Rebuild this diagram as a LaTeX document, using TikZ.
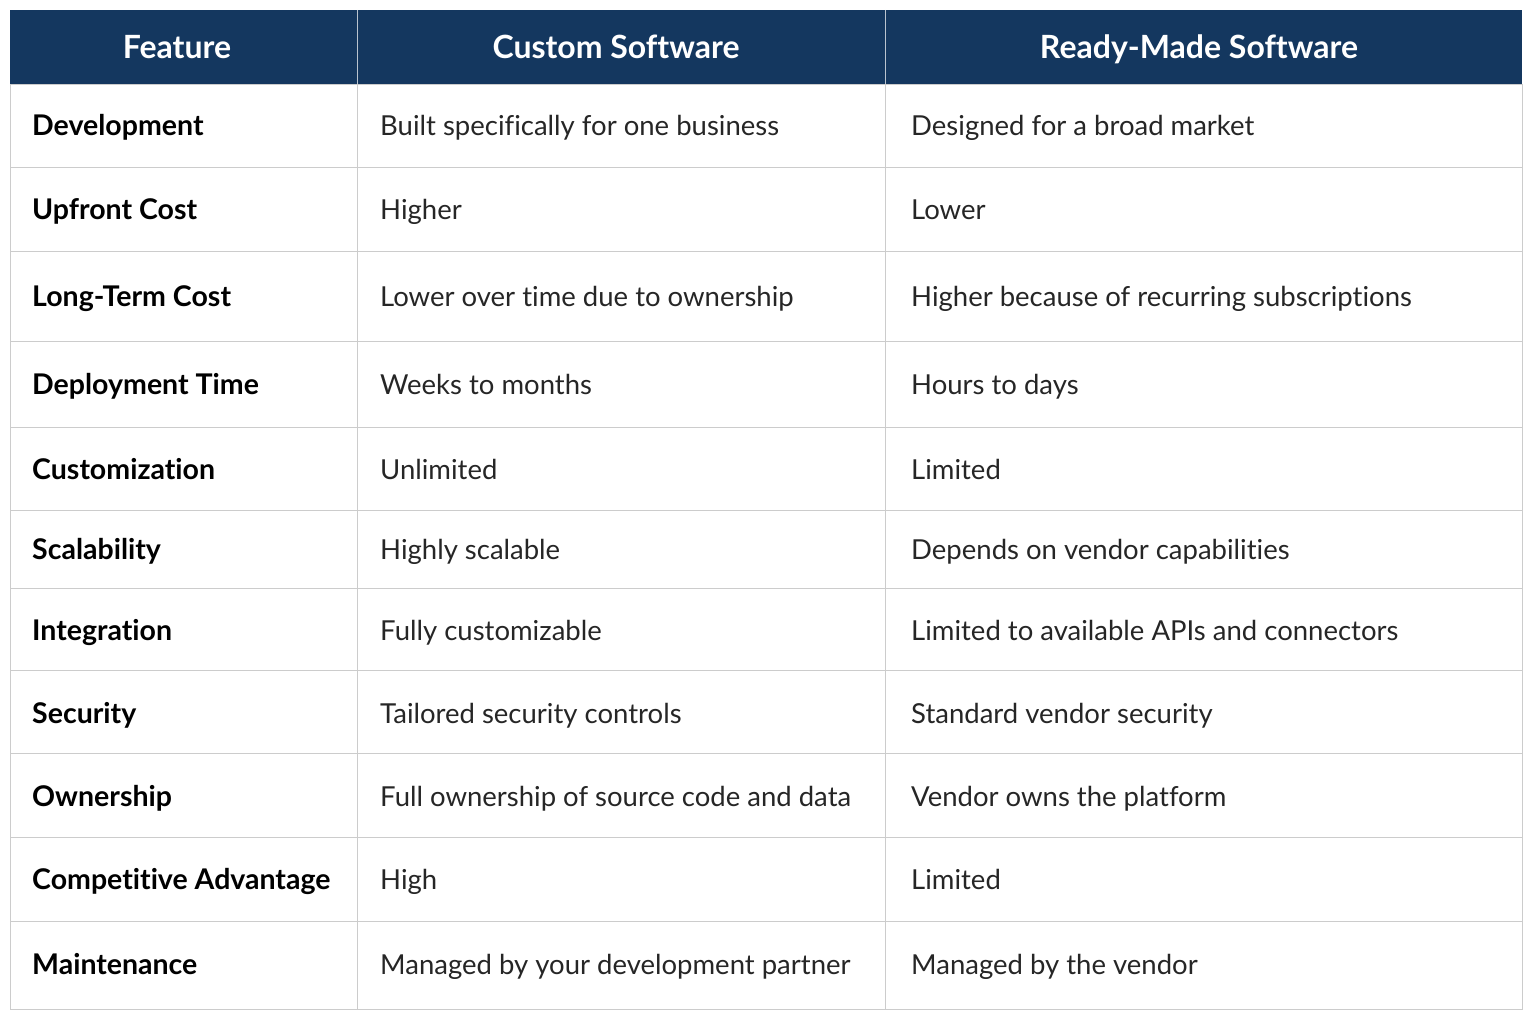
\documentclass[tikz,border=0pt]{standalone}
\usepackage{fontspec}
\setmainfont[Ligatures={NoCommon,NoRare}]{Lato}
\definecolor{hdr}{HTML}{14375F}
\definecolor{grid}{HTML}{CCCCCC}
\begin{document}
\begin{tikzpicture}[x=1pt,y=-1pt,
  hd/.style={font=\fontsize{32}{36}\selectfont\bfseries, text=white, anchor=base},
  fc/.style={font=\fontsize{28.5}{32}\selectfont\bfseries, anchor=base west, text=black, inner sep=0pt},
  bc/.style={font=\fontsize{27.5}{32}\selectfont, anchor=base west, text=black!85, inner sep=0pt}]
\useasboundingbox (0,0) rectangle (1536,1024);
\fill[white] (0,0) rectangle (1536,1024);
\fill[hdr] (10,10) rectangle (1522,84);
\draw[white!70!hdr, line width=0.8pt] (357,10) -- (357,84) (885,10) -- (885,84);
\node[hd] (h1) at (177,59) {Feature};
\node[hd] (h2) at (616,59) {Custom Software};
\node[hd] (h3) at (1199,59) {Ready-Made Software};
\foreach \y in {167,251,341,427,510,588,670,753,837,921}
  \draw[grid, line width=0.8pt] (10,\y) -- (1522,\y);
\draw[grid, line width=0.8pt] (10,84) rectangle (1522,1009);
\draw[grid, line width=0.8pt] (357,84) -- (357,1009) (885,84) -- (885,1009);
\foreach \i/\y/\a/\b/\c in {
 1/126/Development/Built specifically for one business/Designed for a broad market,
 2/210/Upfront Cost/Higher/Lower,
 3/296/Long-Term Cost/Lower over time due to ownership/Higher because of recurring subscriptions,
 4/384/Deployment Time/Weeks to months/Hours to days,
 5/469/Customization/Unlimited/Limited,
 6/549/Scalability/Highly scalable/Depends on vendor capabilities,
 7/630/Integration/Fully customizable/Limited to available APIs and connectors,
 8/713/Security/Tailored security controls/Standard vendor security,
 9/796/Ownership/Full ownership of source code and data/Vendor owns the platform,
 10/879/Competitive Advantage/High/Limited,
 11/964/Maintenance/Managed by your development partner/Managed by the vendor}{
  \node[fc] (f\i) at (32,\y+10) {\a};
  \node[bc] (c\i) at (380,\y+10) {\b};
  \node[bc] (r\i) at (911,\y+10) {\c};
}
\end{tikzpicture}
\end{document}
